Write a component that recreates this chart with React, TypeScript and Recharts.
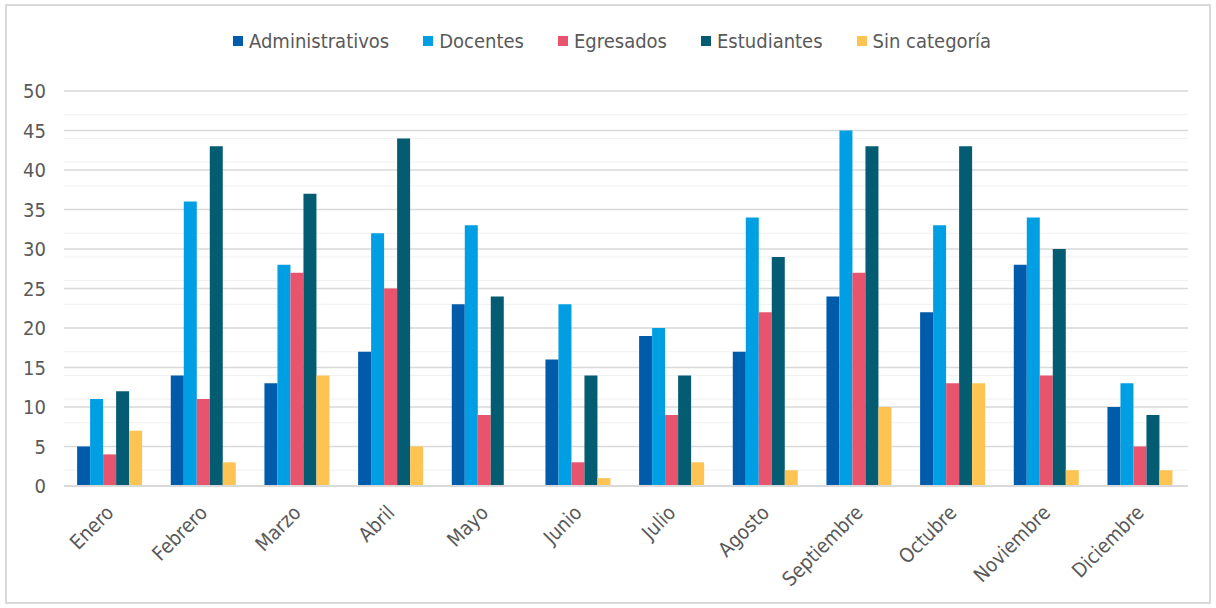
import { Bar, BarChart, CartesianGrid, Legend, XAxis, YAxis } from 'recharts';

const months = ['Enero', 'Febrero', 'Marzo', 'Abril', 'Mayo', 'Junio', 'Julio', 'Agosto', 'Septiembre', 'Octubre', 'Noviembre', 'Diciembre'];
const administrativos = [5, 14, 13, 17, 23, 16, 19, 17, 24, 22, 28, 10];
const docentes = [11, 36, 28, 32, 33, 23, 20, 34, 45, 33, 34, 13];
const egresados = [4, 11, 27, 25, 9, 3, 9, 22, 27, 13, 14, 5];
const estudiantes = [12, 43, 37, 44, 24, 14, 14, 29, 43, 43, 30, 9];
const sinCategoria = [7, 3, 14, 5, 0, 1, 3, 2, 10, 13, 2, 2];
const yTicks = [0, 5, 10, 15, 20, 25, 30, 35, 40, 45, 50];
const minorLines = Array.from({ length: 51 }, (_, i) => i);

const series = [
  { key: 'Administrativos', values: administrativos, color: '#005BAA' },
  { key: 'Docentes', values: docentes, color: '#009FE3' },
  { key: 'Egresados', values: egresados, color: '#E8536E' },
  { key: 'Estudiantes', values: estudiantes, color: '#045C73' },
  { key: 'Sin categoría', values: sinCategoria, color: '#FDC453' },
];

const data = months.map((m, i) => {
  const row: Record<string, string | number> = { month: m };
  series.forEach((s) => {
    row[s.key] = s.values[i];
  });
  return row;
});

const FONT = '"DejaVu Sans Condensed", "DejaVu Sans", sans-serif';
const TEXT = '#595959';

const MonthTick = (props: any) => {
  const { x, y, payload } = props;
  const ax = x + 4;
  const ay = y + 20;
  return (
    <text
      x={ax}
      y={ay}
      transform={`rotate(-45, ${ax}, ${ay})`}
      textAnchor="end"
      fill={TEXT}
      fontSize={20}
      fontFamily={FONT}
    >
      {payload.value}
    </text>
  );
};

const LegendContent = () => (
  <div style={{ display: 'flex', justifyContent: 'center', gap: 34, fontFamily: FONT, fontSize: 20, color: TEXT }}>
    {series.map((s) => (
      <div key={s.key} style={{ display: 'flex', alignItems: 'center' }}>
        <span style={{ display: 'inline-block', width: 10, height: 10, background: s.color, marginRight: 6 }} />
        <span>{s.key}</span>
      </div>
    ))}
  </div>
);

export default function App() {
  return (
    <div style={{ position: 'absolute', left: 0, top: 0, width: 1216, height: 608, background: '#fff' }}>
      <div
        style={{
          position: 'absolute',
          left: 5,
          top: 4,
          width: 1202,
          height: 596,
          border: '2px solid #d9d9d9',
        }}
      />
      <div style={{ position: 'absolute', left: 0, top: 0 }}>
        <BarChart
          width={1216}
          height={608}
          data={data}
          margin={{ top: 67, right: 28, left: 8, bottom: 22 }}
          barCategoryGap="14%"
          barGap={0}
        >
          <CartesianGrid horizontalValues={minorLines} vertical={false} stroke="#f0f0f0" strokeWidth={1} />
          <CartesianGrid vertical={false} stroke="#d9d9d9" strokeWidth={1.5} />
          <XAxis
            dataKey="month"
            height={100}
            interval={0}
            tick={<MonthTick />}
            tickLine={false}
            axisLine={{ stroke: '#d9d9d9', strokeWidth: 2 }}
          />
          <YAxis
            domain={[0, 50]}
            ticks={yTicks}
            width={56}
            axisLine={false}
            tickLine={false}
            tickMargin={12}
            tick={{ fill: TEXT, fontSize: 20, fontFamily: FONT }}
          />
          <Legend
            verticalAlign="top"
            align="center"
            content={<LegendContent />}
            wrapperStyle={{ top: 29, left: 4, width: 1216 }}
          />
          {series.map((s) => (
            <Bar key={s.key} dataKey={s.key} fill={s.color} isAnimationActive={false} />
          ))}
        </BarChart>
      </div>
    </div>
  );
}
